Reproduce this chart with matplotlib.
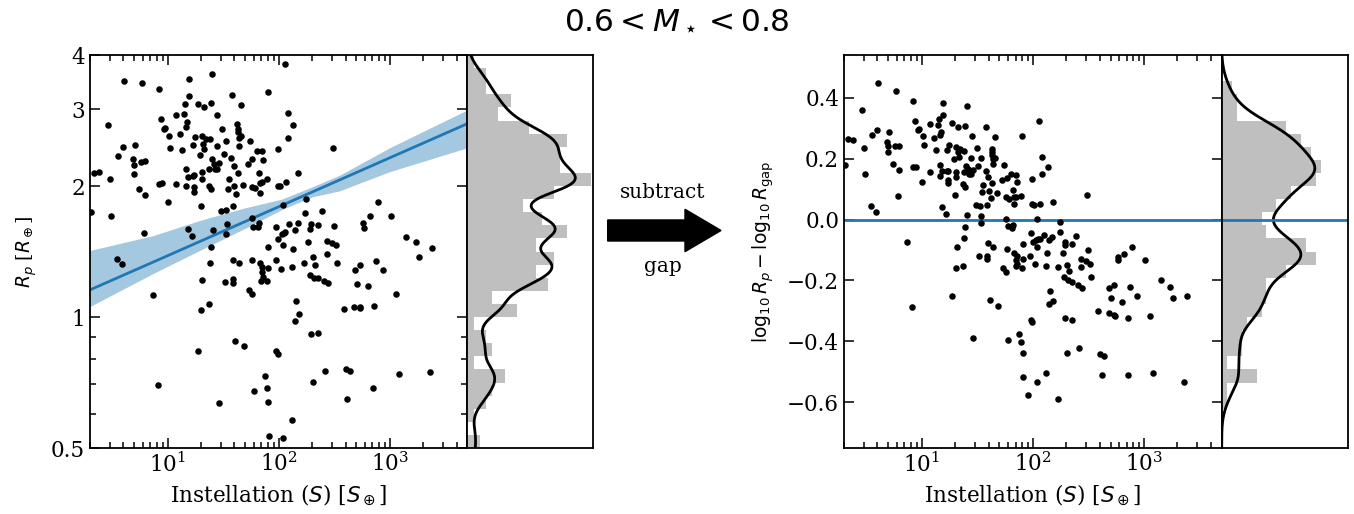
import numpy as np
import matplotlib
matplotlib.use("Agg")
import matplotlib.pyplot as plt
from matplotlib.patches import FancyArrow
from matplotlib.ticker import NullFormatter

plt.rcParams['font.family'] = ['DejaVu Serif']
plt.rcParams['mathtext.fontset'] = 'dejavusans'

# log10 instellation [S_earth] of each planet
log_insol = [
    2.057, 0.605, 0.773, 1.192, 1.404, 0.925, 1.904, 1.192, 1.581, 1.153,
    1.273, 1.329, 1.392, 1.659, 1.078, 1.144, 1.449, 2.084, 0.467, 0.937,
    1.174, 1.162, 1.629, 2.132, 0.973, 0.964, 1.111, 1.494, 1.632, 1.635,
    1.009, 1.246, 1.311, 1.347, 1.380, 1.659, 1.644, 2.081, 1.530, 1.740,
    0.599, 0.710, 1.021, 1.228, 1.323, 1.443, 1.644, 1.126, 1.332, 1.805,
    1.847, 1.994, 2.485, 0.557, 1.288, 1.509, 0.692, 0.758, 0.799, 1.401,
    1.575, 1.764, 1.859, 0.695, 1.416, 1.461, 1.599, 1.725, 1.162, 1.377,
    1.425, 1.443, 0.341, 0.383, 0.701, 1.228, 1.308, 1.186, 1.240, 1.632,
    1.820, 2.177, 0.482, 1.311, 1.554, 1.892, 1.847, 1.832, 0.922, 0.949,
    1.078, 1.162, 1.240, 1.371, 1.392, 1.545, 1.602, 1.677, 1.758, 1.785,
    1.994, 2.012, 2.063, 0.740, 1.237, 1.620, 1.832, 0.793, 1.000, 2.243,
    1.299, 1.590, 2.039, 0.314, 1.485, 1.524, 2.392, 2.892, 0.488, 2.240,
    3.012, 2.823, 1.761, 1.773, 1.823, 1.814, 1.533, 2.096, 2.174, 2.288,
    2.350, 2.285, 2.494, 2.764, 2.767, 1.979, 2.144, 0.785, 1.180, 1.407,
    1.530, 2.060, 2.027, 2.045, 1.222, 1.997, 3.150, 3.237, 2.267, 2.434,
    2.476, 2.515, 1.392, 1.907, 2.039, 2.126, 3.383,
    3.261, 0.548, 0.593, 1.383, 1.593, 1.641, 1.764, 1.829, 1.853, 1.907,
    1.973, 2.021, 2.120, 2.225, 2.311, 2.323, 2.434, 2.524, 2.689, 2.734,
    2.877, 2.940, 1.314, 1.518, 1.590, 1.590, 1.850, 1.856, 1.844, 1.898,
    2.279, 2.317, 2.353, 2.404, 2.440, 2.704, 2.805, 3.057, 0.865, 1.734,
    1.761, 1.374, 1.305, 2.153, 2.183, 2.144, 2.587, 2.683, 2.734, 2.737,
    2.856, 2.288, 2.350, 1.611, 1.689, 1.270, 1.979, 1.991, 2.416, 2.608,
    2.641, 3.081, 3.362, 0.913, 1.877, 1.895, 2.308, 2.853, 1.776, 1.907,
    1.461, 2.620, 2.117, 1.910, 2.036,
    1.959, 2.224,
]

# log10 planet radius [R_earth]
log_rp = [
    0.582, 0.543, 0.538, 0.546, 0.559, 0.523, 0.517, 0.507, 0.511, 0.489,
    0.490, 0.483, 0.491, 0.487, 0.464, 0.467, 0.465, 0.468, 0.441, 0.456,
    0.449, 0.436, 0.444, 0.442, 0.435, 0.431, 0.421, 0.431, 0.433, 0.425,
    0.415, 0.413, 0.415, 0.410, 0.410, 0.417, 0.411, 0.411, 0.404, 0.404,
    0.391, 0.396, 0.389, 0.395, 0.398, 0.392, 0.394, 0.383, 0.385, 0.382,
    0.382, 0.385, 0.388, 0.369, 0.373, 0.375, 0.362, 0.356, 0.358, 0.363,
    0.365, 0.362, 0.360, 0.349, 0.352, 0.354, 0.348, 0.352, 0.339, 0.339,
    0.339, 0.341, 0.331, 0.333, 0.329, 0.325, 0.333, 0.322, 0.326, 0.332,
    0.330, 0.331, 0.316, 0.316, 0.316, 0.318, 0.311, 0.308, 0.306, 0.307,
    0.305, 0.301, 0.299, 0.300, 0.293, 0.293, 0.302, 0.303, 0.299, 0.297,
    0.302, 0.301, 0.310, 0.293, 0.287, 0.282, 0.285, 0.281, 0.265, 0.272,
    0.255, 0.254, 0.258, 0.242, 0.243, 0.245, 0.243, 0.264, 0.233, 0.238,
    0.233, 0.231, 0.228, 0.206, 0.216, 0.206, 0.213, 0.214, 0.215, 0.213,
    0.212, 0.202, 0.209, 0.215, 0.205, 0.207, 0.201, 0.193, 0.202, 0.201,
    0.190, 0.195, 0.190, 0.193, 0.185, 0.179, 0.183, 0.172, 0.172, 0.174,
    0.171, 0.166, 0.161, 0.161, 0.166, 0.157, 0.158,
    0.139, 0.133, 0.121, 0.123, 0.132, 0.123, 0.130, 0.124, 0.116, 0.113,
    0.130, 0.110, 0.114, 0.124, 0.139, 0.120, 0.145, 0.123, 0.107, 0.120,
    0.129, 0.109, 0.086, 0.081, 0.088, 0.078, 0.103, 0.092, 0.083, 0.083,
    0.097, 0.090, 0.089, 0.083, 0.077, 0.075, 0.072, 0.054, 0.051, 0.063,
    0.053, 0.030, 0.015, 0.036, 0.008, -0.009, 0.018, 0.023, 0.024, 0.020,
    0.025, -0.039, -0.037, -0.055, -0.067, -0.079, -0.079, -0.085, -0.123, -0.120,
    -0.124, -0.130, -0.127, -0.156, -0.136, -0.162, -0.150, -0.162, -0.169, -0.195,
    -0.197, -0.188, -0.236, -0.274, -0.277,
    -0.328, -0.312,
]

# radius gap: log10 R_gap = gap_intercept + gap_slope * log10 S
gap_intercept = 0.0285
gap_slope = 0.1124

# credible band of the gap location (log10 R) at selected log10 S
band_log_s = [0.30, 0.87, 1.29, 1.70, 2.03, 2.30, 2.55, 3.00, 3.70]
band_hi = [0.153, 0.187, 0.222, 0.251, 0.271, 0.299, 0.326, 0.389, 0.476]
band_lo = [0.024, 0.100, 0.153, 0.204, 0.247, 0.276, 0.290, 0.334, 0.389]

title = r"$0.6 < M_\star < 0.8$"
s_lim = (2, 5000)
r_lim = (0.5, 4)
d_lim = (-0.75, 0.54)
r_ticks = [0.5, 1, 2, 3, 4]
r_tick_labels = ["0.5", "1", "2", "3", "4"]

blue = "#1f77b4"
lw_spine = 1.3
tick_fs = 15.5
xlabel_fs = 15.5
ylabel_fs = 13.5

log_insol = np.asarray(log_insol)
log_rp = np.asarray(log_rp)
insol = 10 ** log_insol
rp = 10 ** log_rp
delta = log_rp - (gap_intercept + gap_slope * log_insol)


def kde(samples, grid, bw):
    z = (grid[:, None] - samples[None, :]) / bw
    return np.exp(-0.5 * z ** 2).sum(axis=1) / (len(samples) * bw * np.sqrt(2 * np.pi))


def style_scatter(ax):
    for sp in ax.spines.values():
        sp.set_linewidth(lw_spine)
    ax.tick_params(which="both", direction="in", top=True, right=True,
                   labelsize=tick_fs, width=1.1)
    ax.tick_params(which="major", length=7)
    ax.tick_params(which="minor", length=4)


def side_hist(ax, values, lo, hi, bw, fill):
    edges = np.linspace(lo, hi, 31)
    counts, _, _ = ax.hist(values, bins=edges, orientation="horizontal",
                           density=True, color="0.75")
    grid = np.linspace(lo, hi, 600)
    ax.plot(kde(values, grid, bw), grid, color="k", lw=2)
    ax.set_ylim(lo, hi)
    ax.set_xlim(0, counts.max() / fill)
    ax.set_xticks([])
    ax.set_yticks([])
    for sp in ax.spines.values():
        sp.set_linewidth(lw_spine)


fig = plt.figure(figsize=(13.54, 5.14), dpi=100)

# left: radius vs instellation with the fitted gap
ax1 = fig.add_axes([0.06647, 0.12840, 0.27866, 0.76459])
ax1.set_xscale("log")
ax1.set_yscale("log")
ax1.fill_between(10 ** np.array(band_log_s), 10 ** np.array(band_lo),
                 10 ** np.array(band_hi), color=blue, alpha=0.4, lw=0)
s_line = np.array(s_lim, dtype=float)
ax1.plot(s_line, 10 ** (gap_intercept + gap_slope * np.log10(s_line)),
         color=blue, lw=2)
ax1.scatter(insol, rp, s=22, color="k", lw=0, zorder=3)
ax1.set_xlim(*s_lim)
ax1.set_ylim(*r_lim)
ax1.set_yticks(r_ticks)
ax1.set_yticklabels(r_tick_labels)
ax1.yaxis.set_minor_formatter(NullFormatter())
style_scatter(ax1)
ax1.set_xlabel(r"Instellation ($S$) [$S_\oplus$]", fontsize=xlabel_fs)
ax1.set_ylabel(r"$R_p$ [$R_\oplus$]", fontsize=ylabel_fs, labelpad=9)

ax1h = fig.add_axes([0.34513, 0.12840, 0.09261, 0.76459])
side_hist(ax1h, log_rp, np.log10(r_lim[0]), np.log10(r_lim[1]), 0.025, 0.99)

# right: distance from the gap
ax2 = fig.add_axes([0.62334, 0.12840, 0.27895, 0.76459])
ax2.set_xscale("log")
ax2.axhline(0, color=blue, lw=2)
ax2.scatter(insol, delta, s=22, color="k", lw=0, zorder=3)
ax2.set_xlim(*s_lim)
ax2.set_ylim(*d_lim)
style_scatter(ax2)
ax2.set_xlabel(r"Instellation ($S$) [$S_\oplus$]", fontsize=xlabel_fs)
ax2.set_ylabel(r"$\log_{10}R_p - \log_{10}R_{\rm gap}$", fontsize=ylabel_fs,
               labelpad=8)

ax2h = fig.add_axes([0.90229, 0.12840, 0.09306, 0.76459])
side_hist(ax2h, delta, d_lim[0], d_lim[1], 0.045, 0.79)
ax2h.axhline(0, color=blue, lw=2)

# arrow between the panels
fig.patches.append(FancyArrow(0.4488, 0.5516, 0.0837, 0.0, width=0.0409,
                              head_width=0.0825, head_length=0.0266,
                              length_includes_head=True, color="k",
                              transform=fig.transFigure, figure=fig))
fig.text(0.4897, 0.625, "subtract", ha="center", va="center", fontsize=14.5)
fig.text(0.4897, 0.482, "gap", ha="center", va="center", fontsize=14.5)

fig.suptitle(title, y=0.961, va="center", fontsize=22.5)

fig.savefig("out.png", dpi=100)
